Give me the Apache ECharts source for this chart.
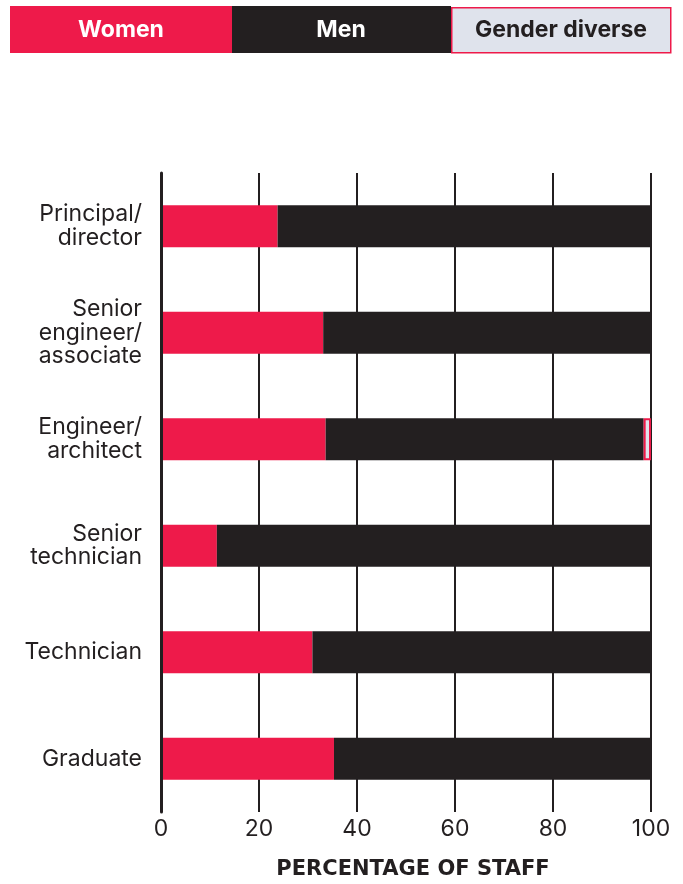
<!DOCTYPE html>
<html>
<head>
<meta charset="utf-8">
<script src="https://cdn.jsdelivr.net/npm/echarts@6/dist/echarts.min.js"></script>
<style>
  html, body { margin: 0; padding: 0; background: #ffffff; }
  #chart { width: 683px; height: 884px; }
</style>
</head>
<body>
<div id="chart"></div>
<script>
// Staff roles, top to bottom
const roles = [
  'Principal/\ndirector',
  'Senior\nengineer/\nassociate',
  'Engineer/\narchitect',
  'Senior\ntechnician',
  'Technician',
  'Graduate'
];
// Share of staff (%) by gender
const women = [23.8, 33.1, 33.6, 11.4, 30.9, 35.3];
const men = [76.2, 66.9, 64.9, 88.6, 69.1, 64.7];
const genderDiverse = [0, 0, 1.5, 0, 0, 0];
const xTicks = [0, 20, 40, 60, 80, 100];

const PINK = '#ee1a4a';
const DARK = '#231f20';
const LIGHT = '#dfe3ec';
const FONT = 'Inter, Roboto, "Noto Sans", sans-serif';
const WIDE_BOLD = '"DejaVu Sans", Inter, sans-serif';

const chart = echarts.init(document.getElementById('chart'), null, { renderer: 'canvas' });

chart.setOption({
  animation: false,
  backgroundColor: '#ffffff',
  grid: { left: 161, right: 32, top: 173, bottom: 72, containLabel: false },
  xAxis: {
    type: 'value',
    min: xTicks[0],
    max: xTicks[xTicks.length - 1],
    interval: 20,
    axisLine: { show: false },
    axisTick: { show: false },
    axisLabel: {
      margin: 6,
      fontFamily: FONT,
      fontSize: 23,
      color: DARK,
      formatter: v => String(v)
    },
    splitLine: { show: true, lineStyle: { color: DARK, width: 2 } }
  },
  yAxis: {
    type: 'category',
    data: roles,
    inverse: true,
    z: 5,
    axisLine: { show: true, lineStyle: { color: DARK, width: 3 } },
    axisTick: { show: false },
    axisLabel: {
      margin: 19,
      fontFamily: FONT,
      fontSize: 23,
      lineHeight: 23.5,
      padding: [3, 0, 0, 0],
      color: DARK,
      align: 'right'
    }
  },
  series: [
    {
      name: 'Women',
      type: 'bar',
      stack: 'total',
      barWidth: 42,
      data: women,
      itemStyle: { color: PINK }
    },
    {
      name: 'Men',
      type: 'bar',
      stack: 'total',
      barWidth: 42,
      data: men,
      itemStyle: { color: DARK }
    },
    {
      name: 'Gender diverse',
      type: 'bar',
      stack: 'total',
      barWidth: 42,
      data: genderDiverse.map(v => v > 0 ? v : null),
      itemStyle: { color: LIGHT, borderColor: PINK, borderWidth: 2 }
    }
  ],
  graphic: [
    // Legend strip
    { type: 'rect', left: 10, top: 6, shape: { width: 222, height: 47 }, style: { fill: PINK } },
    { type: 'rect', left: 232, top: 6, shape: { width: 219, height: 47 }, style: { fill: DARK } },
    { type: 'rect', left: 451, top: 7, shape: { width: 219, height: 45 }, style: { fill: LIGHT, stroke: PINK, lineWidth: 1.5 } },
    { type: 'text', x: 121, y: 30, style: { text: 'Women', fill: '#ffffff', font: `bold 23px ${FONT}`, align: 'center', verticalAlign: 'middle' } },
    { type: 'text', x: 341, y: 30, style: { text: 'Men', fill: '#ffffff', font: `bold 23px ${FONT}`, align: 'center', verticalAlign: 'middle' } },
    { type: 'text', x: 561, y: 30, style: { text: 'Gender diverse', fill: DARK, font: `bold 23px ${FONT}`, align: 'center', verticalAlign: 'middle' } },
    // Axis title
    { type: 'text', x: 413, y: 870, style: { text: 'PERCENTAGE OF STAFF', fill: DARK, font: `bold 21px ${WIDE_BOLD}`, align: 'center', verticalAlign: 'middle' } }
  ]
});
</script>
</body>
</html>
